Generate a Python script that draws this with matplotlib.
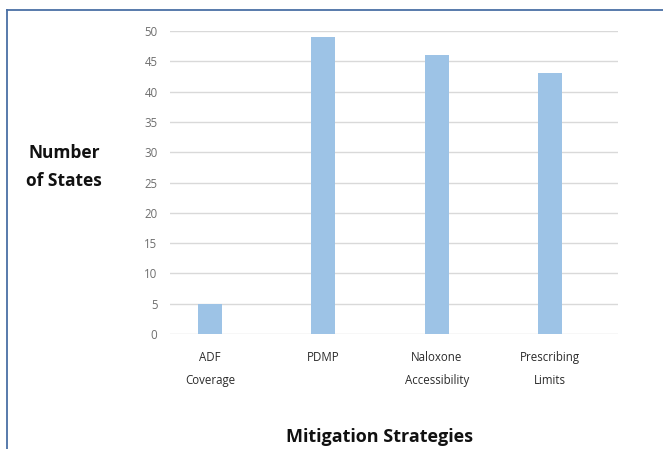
import matplotlib
matplotlib.use("Agg")
import matplotlib.pyplot as plt
from matplotlib.lines import Line2D

categories = ["ADF\nCoverage", "PDMP", "Naloxone\nAccessibility", "Prescribing\nLimits"]
values = [5, 49, 46, 43]
yticks = [0, 5, 10, 15, 20, 25, 30, 35, 40, 45, 50]

plt.rcParams['font.family'] = ['Open Sans', 'DejaVu Sans']

fig = plt.figure(figsize=(6.63, 4.49), dpi=100)
ax = fig.add_axes([170/663, 1 - 334/449, 448/663, 303/449])

x = list(range(len(categories)))
ax.bar(x, values, width=0.212, color="#9DC3E6", zorder=3)
ax.set_xlim(-0.354, 3.60)
ax.set_ylim(0, 50)
ax.set_yticks(yticks)
ax.set_yticklabels([str(t) for t in yticks], fontsize=8.3, color="#6E6E6E")
ax.set_xticks(x)
ax.set_xticklabels(categories, fontsize=8.3, color="#2B2B2B", linespacing=2.0)
ax.tick_params(axis='y', length=0, pad=9)
ax.tick_params(axis='x', length=0, pad=12)
ax.grid(axis='y', color="#D9D9D9", linewidth=1, zorder=0)
for s in ax.spines.values():
    s.set_visible(False)

fig.text(0.097, 1 - 167/449, "Number\nof States", fontsize=12.5, fontweight='bold',
         ha='center', va='center', linespacing=1.75, color="#111111")
fig.text(380/663, 1 - 437/449, "Mitigation Strategies", fontsize=13, fontweight='bold',
         ha='center', va='center', color="#111111")

# frame border
fig.add_artist(Line2D([7/663, 7/663], [0, 1 - 10/449], transform=fig.transFigure,
                      color="#4A6FA5", linewidth=1.3))
fig.add_artist(Line2D([7/663, 1], [1 - 10/449, 1 - 10/449], transform=fig.transFigure,
                      color="#4A6FA5", linewidth=1.3))

fig.savefig("out.png", dpi=100)
